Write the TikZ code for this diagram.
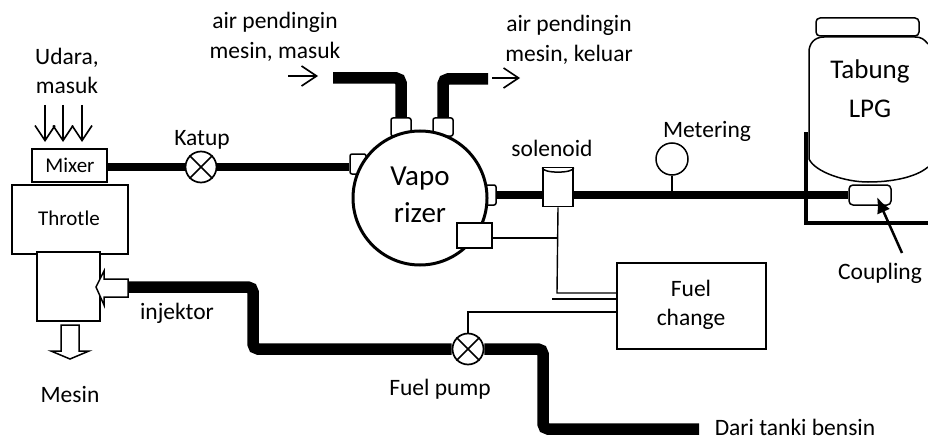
\documentclass[tikz,border=0pt]{standalone}
\usepackage{fontspec}
\setmainfont{Carlito}
\usetikzlibrary{arrows.meta,shapes.geometric}
\tikzset{
  lbl/.style={inner sep=0pt,align=center,font=\fontsize{23.5}{29.5}\selectfont},
  kotak/.style={draw,line width=1.5pt,fill=white,inner sep=0pt},
  fitting/.style={kotak,rounded corners=2pt},
  katup/.style={circle,draw,line width=1.7pt,fill=white,inner sep=0pt,minimum size=31pt},
  pipa/.style={line width=8pt},
  pipatebal/.style={line width=11.5pt,rounded corners=5pt},
  kabel/.style={line width=1.4pt},
  aliran/.style={line width=1.6pt,-{Straight Barb[length=15pt,width=20pt,line width=1.6pt]}},
  panah/.style={draw,line width=1.5pt,fill=white,line join=miter}
}
\begin{document}
\begin{tikzpicture}[x=1pt,y=-1pt]
  \useasboundingbox (0,0) rectangle (928,441);
  \node[kotak,minimum width=75pt,minimum height=33pt](mixer)at(69.5,165.5){};
  \node[lbl,font=\fontsize{21}{25}\selectfont](mixerlbl)at(70,165){Mixer};
  \node[kotak,minimum width=116pt,minimum height=69pt](throtle)at(70,219.5){};
  \node[lbl,font=\fontsize{21}{25}\selectfont](throtlelbl)at(69,218){Throtle};
  \node[kotak,minimum width=63pt,minimum height=69pt](mesinbox)at(68.5,286.5){};
  \node[lbl](udara)at(67,71){Udara,\\masuk};
  \coordinate (u1a) at (45,105); \coordinate (u1b) at (45,142);
  \coordinate (u2a) at (63,105); \coordinate (u2b) at (63,142);
  \coordinate (u3a) at (82,105); \coordinate (u3b) at (82,142);
  \draw[aliran] (u1a) -- (u1b);
  \draw[aliran] (u2a) -- (u2b);
  \draw[aliran] (u3a) -- (u3b);
  \draw[panah] (61,325) -- (79,325) -- (79,351) -- (89,351) -- (70,359) -- (51,351) -- (61,351) -- cycle;
  \node[lbl](mesinlbl)at(70,394){Mesin};
  % saluran gas
  \node[katup](katup1)at(201,167){};
  \draw[line width=1.7pt] (katup1.north west) -- (katup1.south east);
  \draw[line width=1.7pt] (katup1.north east) -- (katup1.south west);
  \node[lbl](katuplbl)at(202,140){Katup};
  \node[fitting,minimum width=16pt,minimum height=20pt](fitkiri)at(358,164){};
  \node[fitting,minimum width=20pt,minimum height=18pt](fitatas1)at(401,127){};
  \node[fitting,minimum width=20pt,minimum height=18pt](fitatas2)at(443,127){};
  \node[fitting,minimum width=16pt,minimum height=20pt](fitkanan)at(488,195){};
  \node[circle,draw,line width=3pt,fill=white,inner sep=0pt,minimum size=134pt](vapo)at(420,198){};
  \node[lbl,font=\fontsize{29}{37}\selectfont](vapolbl)at(420,195){Vapo\\rizer};
  \node[kotak,minimum width=35pt,minimum height=25pt](sensor)at(474.5,235.5){};
  \draw[pipa] (katup1.west -| mixer.east) -- (katup1.west);
  \draw[pipa] (katup1.east) -- (katup1.east -| fitkiri.west);
  \coordinate (masuk) at (333,78);
  \coordinate (keluarair) at (488,79);
  \draw[pipatebal] (masuk) -- (fitatas1.north |- masuk) -- (fitatas1.north);
  \draw[pipatebal] (keluarair) -- (fitatas2.north |- keluarair) -- (fitatas2.north);
  \node[lbl](airmasuk)at(275,37){air pendingin\\mesin, masuk};
  \node[lbl](airkeluar)at(569,40){air pendingin\\mesin, keluar};
  \coordinate (am1) at (288,76); \coordinate (am2) at (318,76);
  \coordinate (ak1) at (492,78); \coordinate (ak2) at (520,78);
  \draw[aliran] (am1) -- (am2);
  \draw[aliran] (ak1) -- (ak2);
  % tabung
  \draw[line width=1.5pt] (928,44) .. controls (924,39) and (921,37) .. (915,37) -- (824,37)
    .. controls (814,37) and (809,44) .. (809,52) -- (809,159)
    .. controls (815,172) and (845,182) .. (868,182)
    .. controls (890,182) and (915,178) .. (928,167);
  \node[fitting,rounded corners=4pt,minimum width=103pt,minimum height=18pt](tutup)at(867.5,27){};
  \node[lbl,font=\fontsize{27}{39}\selectfont](tabung)at(870,89){Tabung\\LPG};
  \coordinate (rak1) at (806,132); \coordinate (rak2) at (806,223); \coordinate (rak3) at (928,223);
  \draw[line width=3.5pt] (rak1) -- (rak2) -- (rak3);
  \node[fitting,rounded corners=4pt,minimum width=42pt,minimum height=20pt](coupling)at(870,195){};
  \node[cylinder,draw,line width=1.5pt,fill=white,shape border rotate=90,shape aspect=2.4,inner sep=0pt,
    minimum width=30pt,minimum height=39pt](solenoid)at(558,187.5){};
  \draw[line width=1.5pt] (solenoid.before top) .. controls +(0,6) and +(0,6) .. (solenoid.after top);
  \node[lbl](solenoidlbl)at(552,148){solenoid};
  \draw[pipa] (fitkanan.east) -- (solenoid.west |- fitkanan.east);
  \draw[pipa] (solenoid.east |- coupling.west) -- (coupling.west);
  \node[circle,draw,line width=1.5pt,inner sep=0pt,minimum size=32pt](meter)at(672,159){};
  \coordinate (meterkaki) at (672,195);
  \draw[kabel] (meter.south) -- (meterkaki);
  \node[lbl](meterlbl)at(707,131){Metering};
  \node[lbl](couplinglbl)at(880,273){Coupling};
  \coordinate (tunjuk) at (902,253);
  \coordinate (tunjuk2) at (877,197);
  \draw[line width=2.5pt,-{Latex[length=16pt,width=14pt]}] (tunjuk) -- (tunjuk2);
  % fuel change
  \node[kotak,minimum width=149pt,minimum height=86pt](fuelbox)at(691.5,306){};
  \node[lbl](fuellbl)at(691,305){Fuel\\change};
  \coordinate (sol1) at (557,238);
  \coordinate (sol2) at (557,293);
  \coordinate (sol3) at (617,293);
  \coordinate (sig1) at (552,299);
  \coordinate (sig2) at (617,299);
  \coordinate (pom1) at (468,312);
  \coordinate (pom2) at (617,312);
  \draw[kabel] (solenoid.south) -- (sol2) -- (sol3);
  \draw[kabel] (sensor.east |- sol1) -- (sol1);
  \draw[kabel] (sig1) -- (sig2);
  % saluran bensin
  \node[katup](pompa)at(468,349){};
  \draw[line width=1.7pt] (pompa.north west) -- (pompa.south east);
  \draw[line width=1.7pt] (pompa.north east) -- (pompa.south west);
  \draw[kabel] (pompa.north) -- (pom1) -- (pom2);
  \node[lbl](pompalbl)at(440,389){Fuel pump};
  \coordinate (inj) at (128,287);
  \coordinate (bend1) at (253,287);
  \coordinate (bend2) at (253,349);
  \coordinate (bend3) at (543,349);
  \coordinate (bend4) at (543,429);
  \coordinate (bend5) at (699,429);
  \draw[pipatebal] (inj) -- (bend1) -- (bend2) -- (pompa.west);
  \draw[pipatebal] (pompa.east) -- (bend3) -- (bend4) -- (bend5);
  \draw[panah] (128,279) -- (104,279) -- (104,271) -- (96,287) -- (104,305) -- (104,297) -- (128,297) -- cycle;
  \node[lbl](injektorlbl)at(177,313){injektor};
  \node[lbl](daritanki)at(795,427){Dari tanki bensin};
\end{tikzpicture}
\end{document}
